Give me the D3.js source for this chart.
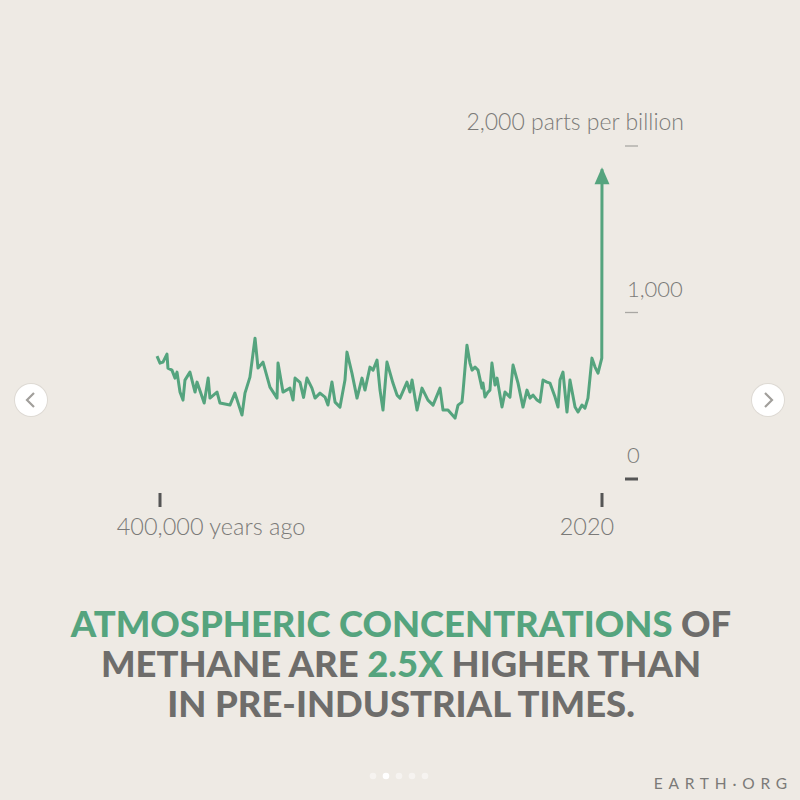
<!DOCTYPE html>
<html>
<head>
<meta charset="utf-8">
<script src="https://cdn.jsdelivr.net/npm/d3@7"></script>
<style>
  html, body { margin: 0; padding: 0; background: #eeeae4; }
  svg { display: block; }
</style>
</head>
<body>
<svg id="chart" width="800" height="800"></svg>
<script>
// thousand years before 2020
const ageKyr = [402.7,400,397.3,393.7,392.8,389.2,386.4,384.6,381.9,379.2,
  377.4,372.9,368.3,366.5,360.0,356.4,354.8,348.4,345.7,336.7,
  332.2,325.8,323.1,318.6,314.0,311.3,306.8,300.5,294.1,293.2,
  288.7,282.4,279.6,277.8,273.3,270.1,267.0,262.5,259.7,255.2,
  250.7,248.0,244.4,241.6,237.1,232.6,230.8,226.3,221.7,217.2,
  214.5,210.0,207.2,203.6,200.9,198.2,194.6,189.2,185.5,182.8,
  176.5,173.8,171.9,167.4,162.9,157.5,152.9,146.6,143.9,139.4,
  133.0,130.3,126.7,125.8,122.2,119.5,117.6,114.9,112.2,108.6,
  107.7,105.9,103.2,101.4,99.6,96.8,95.0,90.5,87.8,83.3,
  80.5,76.0,71.5,67.9,65.2,62.4,58.8,56.1,53.4,49.8,
  47.1,42.5,39.8,38.0,35.3,31.7,29.0,24.4,21.7,18.1,
  15.4,12.7,9.1,6.3,3.6,0.2,0];

// methane, parts per billion
const methanePpb = [738,696,702,750,666,654,606,642,522,474,
  594,642,522,582,456,606,486,522,456,444,
  516,384,516,612,846,666,702,552,486,696,
  522,546,474,606,580,490,606,546,486,516,
  492,444,582,462,432,594,762,636,486,606,
  534,672,654,714,534,414,702,576,504,486,
  582,522,594,414,546,474,444,546,414,414,
  366,444,462,522,804,696,654,672,654,546,
  576,492,522,534,696,564,606,432,522,492,
  684,576,432,534,486,504,474,462,594,582,
  576,492,432,594,642,402,594,432,402,444,
  426,486,726,672,636,726,1860];

const yTicks = [0, 1000, 2000];
const yTickLabels = ["0", "1,000", "2,000 parts per billion"];
const xTicks = [400, 0];
const xTickLabels = ["400,000 years ago", "2020"];

const green = "#55a47e";
const grey = "#6e6d6b";
const lightGrey = "#7b7a78";

const svg = d3.select("#chart");

const x = d3.scaleLinear().domain([400, 0]).range([160, 602]);
const y = d3.scaleLinear().domain([0, 2000]).range([479, 146]);

const data = ageKyr.map((a, i) => ({ age: a, ppb: methanePpb[i] }));

// y ticks (short dashes right of the chart)
const yg = svg.append("g");
yTicks.forEach((t, i) => {
  yg.append("line")
    .attr("x1", 625).attr("x2", 638)
    .attr("y1", y(t)).attr("y2", y(t))
    .attr("stroke", t === 0 ? "#555" : "#a9a7a3")
    .attr("stroke-width", t === 0 ? 3 : 1.3);
  const last = i === yTicks.length - 1;
  yg.append("text")
    .attr("x", last ? 684 : 627)
    .attr("y", y(t) - 16)
    .attr("text-anchor", last ? "end" : "start")
    .attr("font-family", "Lato, 'Open Sans', sans-serif")
    .attr("font-weight", 300)
    .attr("font-size", last ? 23 : 22)
    .attr("fill", lightGrey)
    .text(yTickLabels[i]);
});

// x ticks
const xg = svg.append("g");
xTicks.forEach((t, i) => {
  xg.append("line")
    .attr("x1", x(t)).attr("x2", x(t))
    .attr("y1", 493).attr("y2", 507)
    .attr("stroke", "#555")
    .attr("stroke-width", 3);
  xg.append("text")
    .attr("x", x(t) + (i === 0 ? 51 : -15))
    .attr("y", 535)
    .attr("text-anchor", "middle")
    .attr("font-family", "Lato, 'Open Sans', sans-serif")
    .attr("font-weight", 300)
    .attr("font-size", 23.5)
    .attr("fill", lightGrey)
    .text(xTickLabels[i]);
});

// the methane line
const line = d3.line()
  .x(d => x(d.age))
  .y(d => y(d.ppb));

svg.append("path")
  .datum(data)
  .attr("d", line)
  .attr("fill", "none")
  .attr("stroke", green)
  .attr("stroke-width", 3)
  .attr("stroke-linejoin", "round");

// arrow head at the last point
const tip = data[data.length - 1];
const tx = x(tip.age), ty = y(tip.ppb);
svg.append("path")
  .attr("d", `M${tx},${ty - 2} L${tx + 7.5},${ty + 15} L${tx - 7.5},${ty + 15} Z`)
  .attr("fill", green);

// headline
const title = svg.append("text")
  .attr("text-anchor", "middle")
  .attr("font-family", "Lato, 'Open Sans', sans-serif")
  .attr("font-weight", 900)
  .attr("font-size", 36.4)
  .attr("fill", grey);

const titleLines = [
  [["ATMOSPHERIC CONCENTRATIONS", green], [" OF", grey]],
  [["METHANE ARE ", grey], ["2.5X", green], [" HIGHER THAN", grey]],
  [["IN PRE-INDUSTRIAL TIMES.", grey]]
];
titleLines.forEach((parts, li) => {
  parts.forEach((p, pi) => {
    const ts = title.append("tspan").attr("fill", p[1]).text(p[0]);
    if (pi === 0) ts.attr("x", 401).attr("y", 637 + li * 40);
  });
});

// carousel buttons
[[31, "M34,393 L27,400 L34,407"], [768, "M765,393 L772,400 L765,407"]].forEach(b => {
  svg.append("circle")
    .attr("cx", b[0]).attr("cy", 400).attr("r", 17)
    .attr("fill", "#dedad4");
  svg.append("circle")
    .attr("cx", b[0]).attr("cy", 400).attr("r", 16)
    .attr("fill", "#ffffff");
  svg.append("path")
    .attr("d", b[1])
    .attr("fill", "none")
    .attr("stroke", "#a19f9b")
    .attr("stroke-width", 2.2);
});

// page dots
[0, 1, 2, 3, 4].forEach(i => {
  svg.append("circle")
    .attr("cx", 373 + i * 13).attr("cy", 776).attr("r", 3.3)
    .attr("fill", "#ffffff")
    .attr("opacity", i === 1 ? 1 : 0.45);
});

// brand
svg.append("text")
  .attr("x", 793).attr("y", 789)
  .attr("text-anchor", "end")
  .attr("font-family", "Lato, 'Open Sans', sans-serif")
  .attr("font-weight", 400)
  .attr("font-size", 15.5)
  .attr("letter-spacing", 5.8)
  .attr("fill", lightGrey)
  .text("EARTH·ORG");
</script>
</body>
</html>
